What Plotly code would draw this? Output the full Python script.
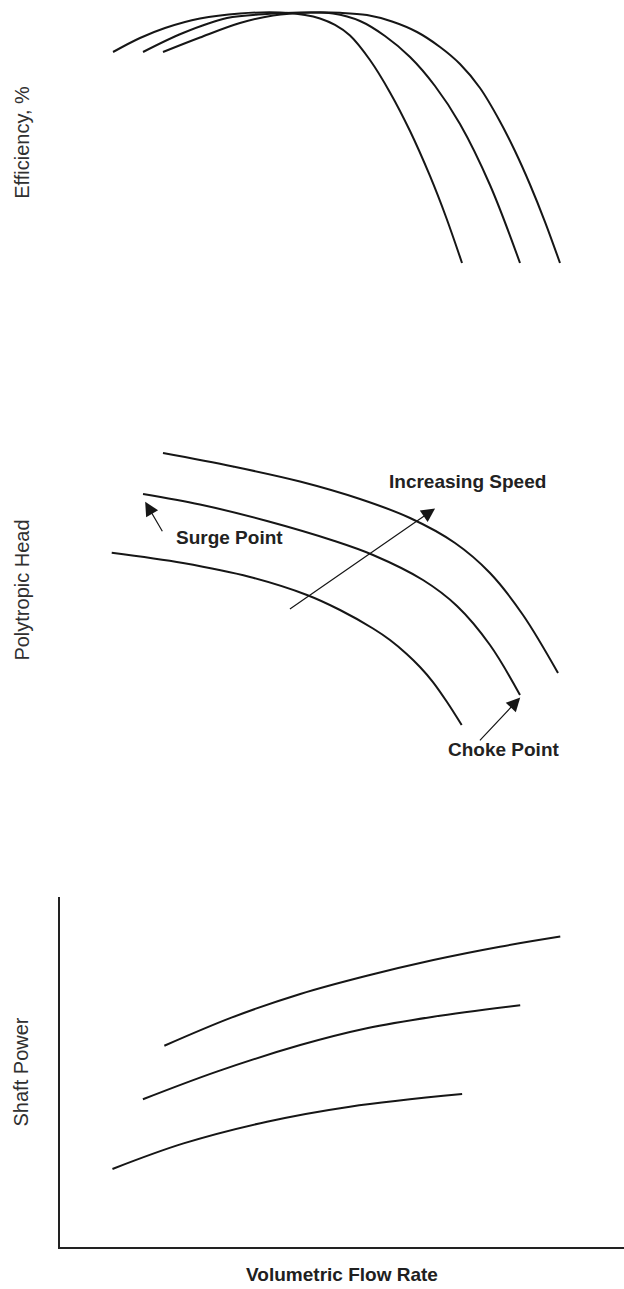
import plotly.graph_objects as go

# Compressor performance curves at three shaft speeds (low, mid, high).
# Flow rate and the vertical quantities are in arbitrary relative units.

# Efficiency vs volumetric flow
eff_low_q = [9.40, 14.18, 18.62, 24.82, 31.91, 39.01, 43.44, 46.10, 48.76, 51.42, 54.96, 58.51, 62.06, 65.60, 68.44, 71.28]
eff_low = [82.91, 88.00, 91.64, 95.09, 96.91, 97.27, 96.36, 95.09, 92.73, 88.91, 80.00, 68.22, 54.18, 37.82, 22.91, 6.18]
eff_mid_q = [14.72, 21.81, 29.61, 36.70, 42.55, 48.40, 53.19, 57.62, 62.06, 66.49, 70.92, 76.24, 81.56]
eff_mid = [82.91, 89.82, 95.27, 96.73, 97.27, 96.91, 94.18, 88.73, 81.09, 70.55, 56.73, 34.55, 6.18]
eff_high_q = [18.26, 24.82, 31.91, 37.77, 44.33, 49.65, 54.43, 58.87, 63.30, 67.38, 70.92, 74.47, 78.01, 80.67, 83.33, 85.99, 88.65]
eff_high = [82.91, 88.18, 93.45, 96.18, 97.27, 97.16, 96.36, 94.00, 90.18, 84.73, 78.55, 69.82, 57.67, 46.91, 34.73, 21.16, 6.18]

# Polytropic head vs volumetric flow
head_low_q = [9.17, 21.81, 33.69, 43.79, 49.65, 55.50, 58.51, 61.47, 63.83, 66.13, 68.62, 71.22]
head_low = [62.43, 59.00, 54.33, 48.33, 43.33, 37.17, 33.33, 28.67, 24.33, 19.33, 12.67, 5.00]
head_mid_q = [14.72, 24.82, 36.70, 48.40, 55.50, 64.36, 70.39, 76.24, 81.56]
head_mid = [82.00, 78.50, 73.00, 66.50, 61.67, 53.33, 44.67, 31.67, 15.00]
head_high_q = [18.26, 30.67, 42.55, 53.19, 62.06, 70.04, 76.24, 82.09, 88.30]
head_high = [95.67, 91.17, 86.17, 80.33, 74.00, 65.67, 55.67, 41.67, 22.33]

# Shaft power vs volumetric flow
pow_low_q = [9.3, 21.9, 36.7, 51.4, 71.3]
pow_low = [22.3, 29.6, 35.8, 40.1, 43.7]
pow_mid_q = [14.7, 27.8, 42.6, 54.4, 66.2, 81.6]
pow_mid = [42.2, 50.1, 57.7, 62.5, 65.8, 69.1]
pow_high_q = [18.5, 30.5, 42.6, 54.4, 66.2, 78.0, 88.7]
pow_high = [57.5, 65.6, 72.3, 77.5, 82.0, 85.8, 88.7]

# Annotation anchors on the head map (flow, head)
speed_arrow_from = (40.5, 43.3)
speed_arrow_to = (66.5, 77.2)
surge_arrow_from = (18.3, 69.1)
surge_arrow_to = (15.1, 79.4)
choke_arrow_from = (74.2, -0.6)
choke_arrow_to = (81.6, 14.2)
speed_label_at = (72.3, 86.1)
surge_label_at = (30.0, 67.4)
choke_label_at = (78.7, -3.3)

LINE = dict(color="#161616", width=2.0)
FONT = "Liberation Sans, Arial, sans-serif"

fig = go.Figure()

panels = [
    ("x3", "y3", [(eff_low_q, eff_low), (eff_mid_q, eff_mid), (eff_high_q, eff_high)]),
    ("x2", "y2", [(head_low_q, head_low), (head_mid_q, head_mid), (head_high_q, head_high)]),
    ("x", "y", [(pow_low_q, pow_low), (pow_mid_q, pow_mid), (pow_high_q, pow_high)]),
]
for xa, ya, curves in panels:
    for q, v in curves:
        fig.add_trace(go.Scatter(
            x=q, y=v, xaxis=xa, yaxis=ya, mode="lines",
            line=dict(shape="spline", smoothing=1.0, **LINE),
            showlegend=False, hoverinfo="skip",
        ))

H = 1289
x_dom = [60 / 624, 1.0]


def ydom(top_px, bottom_px):
    return [1 - bottom_px / H, 1 - top_px / H]


hidden_x = dict(domain=x_dom, range=[0, 100], showline=False, showgrid=False,
                zeroline=False, showticklabels=False, ticks="")


def ytitle(text):
    return dict(text=text, standoff=24,
                font=dict(family=FONT, size=20, color="#303030"))


fig.update_layout(
    width=624, height=H,
    margin=dict(l=0, r=0, t=0, b=0),
    paper_bgcolor="white", plot_bgcolor="white",
    xaxis=dict(domain=x_dom, range=[0, 100], showline=True, linecolor="#222222",
               linewidth=2, showgrid=False, zeroline=False, showticklabels=False,
               ticks="", automargin=False,
               title=dict(text="Volumetric Flow Rate", standoff=20,
                          font=dict(family=FONT, size=19, color="#202020", weight="bold"))),
    yaxis=dict(domain=ydom(897, 1247), range=[0, 100], showline=True,
               linecolor="#222222", linewidth=2, showgrid=False, zeroline=False,
               showticklabels=False, ticks="", automargin=False,
               title=ytitle("Shaft Power")),
    xaxis2=dict(anchor="y2", **hidden_x),
    yaxis2=dict(anchor="x2", domain=ydom(410, 770), range=[-10, 110], showline=False,
                showgrid=False, zeroline=False, showticklabels=False, ticks="",
                automargin=False, title=ytitle("Polytropic Head")),
    xaxis3=dict(anchor="y3", **hidden_x),
    yaxis3=dict(anchor="x3", domain=ydom(5, 280), range=[0, 100], showline=False,
                showgrid=False, zeroline=False, showticklabels=False, ticks="",
                automargin=False, title=ytitle("Efficiency, %")),
)

arrow_style = dict(showarrow=True, arrowhead=2, arrowsize=2.3, arrowwidth=1.2,
                   arrowcolor="#161616", text="", xref="x2", yref="y2",
                   axref="x2", ayref="y2")
for tail, tip in [(speed_arrow_from, speed_arrow_to),
                  (surge_arrow_from, surge_arrow_to),
                  (choke_arrow_from, choke_arrow_to)]:
    fig.add_annotation(x=tip[0], y=tip[1], ax=tail[0], ay=tail[1], **arrow_style)

label_font = dict(family=FONT, size=19, color="#222222", weight="bold")
for text, pos in [("Increasing Speed", speed_label_at),
                  ("Surge Point", surge_label_at),
                  ("Choke Point", choke_label_at)]:
    fig.add_annotation(x=pos[0], y=pos[1], xref="x2", yref="y2", text=text,
                       showarrow=False, font=label_font,
                       xanchor="center", yanchor="middle")

fig.write_html("out.html")
